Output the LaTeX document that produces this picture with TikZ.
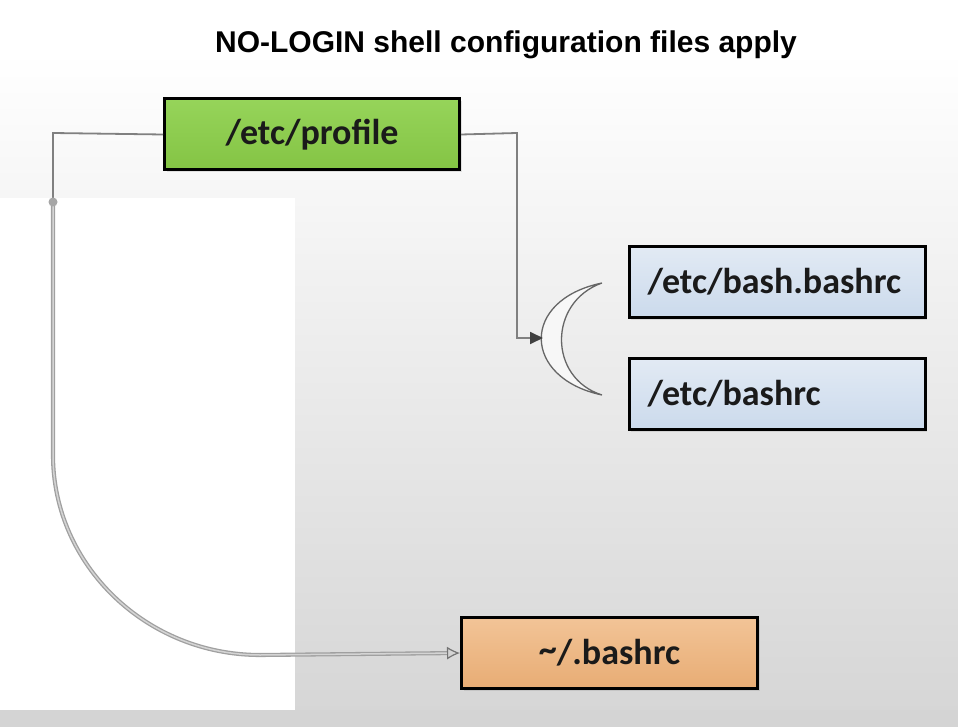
\documentclass[tikz,border=0pt]{standalone}
\usepackage{fontspec}
\setmainfont{Liberation Sans}
\newfontfamily\boxfont{Carlito}
\usetikzlibrary{arrows.meta,shadows}
\definecolor{gline}{HTML}{808080}
\definecolor{gcurve}{HTML}{A0A0A0}
\definecolor{gcurvein}{HTML}{D4D4D4}
\definecolor{txt}{HTML}{1A1A1A}
\definecolor{greentop}{HTML}{96D45A}
\definecolor{greenbot}{HTML}{84C444}
\definecolor{bluetop}{HTML}{E2EAF4}
\definecolor{bluebot}{HTML}{CBDAEC}
\definecolor{orangetop}{HTML}{F2C497}
\definecolor{orangebot}{HTML}{E8AC74}
\tikzset{
  filebox/.style={draw=black, line width=3pt, minimum height=71pt, font=\boxfont\bfseries\fontsize{36}{40}\selectfont, text=txt,
    drop shadow={opacity=0.2, shadow xshift=2pt, shadow yshift=-2pt}},
  greenbox/.style={filebox, minimum width=295pt, top color=greentop, bottom color=greenbot},
  bluebox/.style={filebox, text width=259pt, align=left, inner xsep=18.5pt, top color=bluetop, bottom color=bluebot},
  orangebox/.style={filebox, minimum width=296pt, top color=orangetop, bottom color=orangebot},
  thinline/.style={draw=gline, line width=1.8pt},
  curveline/.style={draw=gcurve, line width=1.3pt, double=gcurvein, double distance=1.5pt}
}
\begin{document}
\begin{tikzpicture}[x=1pt,y=-1pt]
\useasboundingbox (0,0) rectangle (958,727);
% background
\fill[white] (0,0) rectangle (958,727);
\shade[top color=white, bottom color=black!16] (0,52) rectangle (958,710);
\fill[white] (0,198) rectangle (295,710);
\fill[black!17] (0,710) rectangle (958,727);
% title
\node (title) [text=black, font=\bfseries\fontsize{30}{34}\selectfont] at (506,45) {NO-LOGIN shell configuration files apply};
% boxes
\node (profile) [greenbox] at (312,134.5) {/etc/profile};
\node (bashbashrc) [bluebox] at (777,282) {/etc/bash.bashrc};
\node (bashrc) [bluebox] at (777,394) {/etc/bashrc};
\node (home) [orangebox] at (609.5,653) {\raisebox{0.2ex}{\textasciitilde}/.bashrc};
% crescent
\coordinate (cres) at (543,338);
\coordinate (dot) at (53,202);
\filldraw[draw=black!60, fill=black!3, line width=1.3pt]
  (602,283) .. controls (520,300) and (522,378) .. (602,395)
  .. controls (548,378) and (548,302) .. (602,283) -- cycle;
% connectors
\draw[thinline, -{Triangle[length=13pt,width=12pt,color=black!75,fill=black!75]}]
  (profile.east) -- (517,133) |- (cres);
\draw[thinline] (profile.west) -- (53,133) -- (dot);
\draw[curveline, -{Latex[open,length=13pt,width=13pt,fill=gcurvein,color=black!55,line width=1.2pt]}]
  (dot) -- (53,455) .. controls (53,565) and (146,655) .. (260,655) -- (home.west);
\fill[black!35] (dot) circle (4.5pt);
\end{tikzpicture}
\end{document}
